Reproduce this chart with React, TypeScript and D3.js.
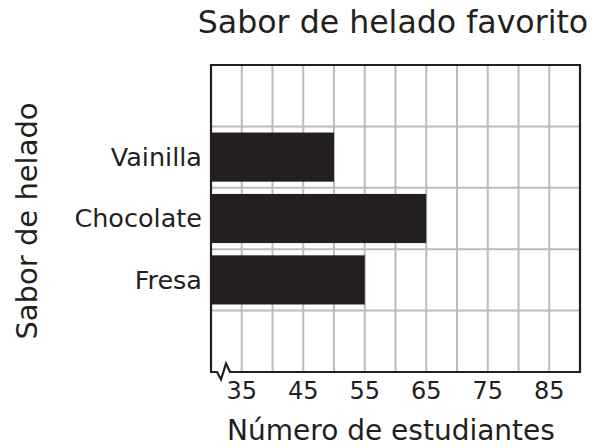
import React from "react";
import * as d3 from "d3";

const categories = ["Vainilla", "Chocolate", "Fresa"];
const values = [50, 65, 55];
const tickValues = [35, 45, 55, 65, 75, 85];
const gridValues = [35, 40, 45, 50, 55, 60, 65, 70, 75, 80, 85];
const rowLines = [1, 2, 3, 4];
const title = "Sabor de helado favorito";
const xTitle = "Número de estudiantes";
const yTitle = "Sabor de helado";

const W = 597;
const H = 448;
const left = 211;
const right = 580;
const top = 65;
const bottom = 372;
const ink = "#231f20";
const gridColor = "#bbbcbe";
const font = "'DejaVu Sans', Verdana, sans-serif";

export default function App() {
  const x = d3.scaleLinear().domain([30, 90]).range([left, right]);
  const rows = d3.scaleLinear().domain([0, 5]).range([top, bottom]);
  const y = d3
    .scaleBand<string>()
    .domain(categories)
    .range([rows(1), rows(4)])
    .paddingInner(0.2)
    .paddingOuter(0.1);

  const x0 = x(30);
  const framePath = d3.path();
  framePath.moveTo(x0, top);
  framePath.lineTo(x0, bottom);
  framePath.lineTo(x0 + 6, bottom);
  framePath.lineTo(x0 + 10, bottom + 7.5);
  framePath.lineTo(x0 + 15, bottom - 8.5);
  framePath.lineTo(x0 + 19, bottom);
  framePath.lineTo(right, bottom);
  framePath.lineTo(right, top);
  framePath.closePath();

  return (
    <svg
      width={W}
      height={H}
      style={{ position: "absolute", left: 0, top: 0, background: "#fff" }}
      fontFamily={font}
    >
      <rect x={0} y={0} width={W} height={H} fill="#fff" />
      {gridValues.map((v) => (
        <line
          key={"gv" + v}
          x1={x(v)}
          x2={x(v)}
          y1={top}
          y2={bottom}
          stroke={gridColor}
          strokeWidth={2}
        />
      ))}
      {rowLines.map((r) => (
        <line
          key={"gh" + r}
          x1={left}
          x2={right}
          y1={rows(r)}
          y2={rows(r)}
          stroke={gridColor}
          strokeWidth={2}
        />
      ))}
      {categories.map((c, i) => (
        <rect
          key={c}
          x={x(30)}
          y={y(c)!}
          width={x(values[i]) - x(30)}
          height={y.bandwidth()}
          fill={ink}
        />
      ))}
      <path
        d={framePath.toString()}
        fill="none"
        stroke={ink}
        strokeWidth={2.2}
        strokeLinejoin="miter"
      />
      {categories.map((c) => (
        <text
          key={"l" + c}
          x={202}
          y={y(c)! + y.bandwidth() / 2}
          dy="0.35em"
          textAnchor="end"
          fontSize={25.5}
          fill={ink}
        >
          {c}
        </text>
      ))}
      {tickValues.map((t) => (
        <text
          key={"t" + t}
          x={x(t)}
          y={399}
          textAnchor="middle"
          fontSize={24}
          fill={ink}
        >
          {t}
        </text>
      ))}
      <text x={393} y={33} textAnchor="middle" fontSize={31.6} fill={ink}>
        {title}
      </text>
      <text x={391} y={440} textAnchor="middle" fontSize={28} fill={ink}>
        {xTitle}
      </text>
      <text
        transform={`translate(37,221) rotate(-90)`}
        textAnchor="middle"
        fontSize={29}
        fill={ink}
      >
        {yTitle}
      </text>
    </svg>
  );
}
